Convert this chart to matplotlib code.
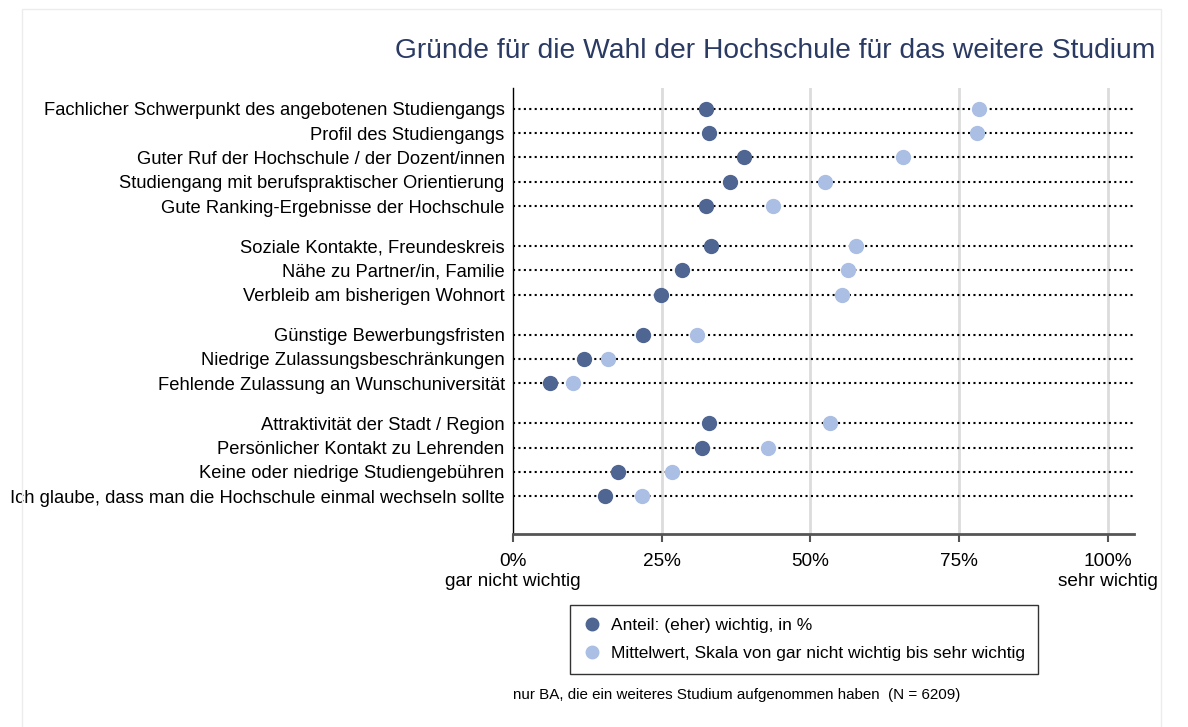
import numpy as np
import matplotlib.pyplot as plt
from matplotlib.lines import Line2D
from matplotlib.patches import Rectangle

plt.rcParams['font.family'] = ['Liberation Sans', 'DejaVu Sans']

# reasons, grouped in four blocks
groups = [
    ["Fachlicher Schwerpunkt des angebotenen Studiengangs",
     "Profil des Studiengangs",
     "Guter Ruf der Hochschule / der Dozent/innen",
     "Studiengang mit berufspraktischer Orientierung",
     "Gute Ranking-Ergebnisse der Hochschule"],
    ["Soziale Kontakte, Freundeskreis",
     "Nähe zu Partner/in, Familie",
     "Verbleib am bisherigen Wohnort"],
    ["Günstige Bewerbungsfristen",
     "Niedrige Zulassungsbeschränkungen",
     "Fehlende Zulassung an Wunschuniversität"],
    ["Attraktivität der Stadt / Region",
     "Persönlicher Kontakt zu Lehrenden",
     "Keine oder niedrige Studiengebühren",
     "Ich glaube, dass man die Hochschule einmal wechseln sollte"],
]

# share (eher) wichtig, in %
anteil = [32.4, 33.0, 38.8, 36.4, 32.5,
          33.3, 28.4, 24.9,
          21.9, 11.9, 6.2,
          33.0, 31.8, 17.7, 15.5]
# mean on 0-100 scale
mittelwert = [78.4, 78.0, 65.5, 52.5, 43.7,
              57.7, 56.4, 55.3,
              30.9, 16.0, 10.1,
              53.3, 42.9, 26.7, 21.7]

xticks = [0, 25, 50, 75, 100]
xticklabels = ["0%\ngar nicht wichtig", "25%", "50%", "75%", "100%\nsehr wichtig"]

dark = "#4f6592"
light = "#abbee3"
title_col = "#2a3a63"

# y positions with an extra gap between blocks
labels, ypos = [], []
y = 0.0
for g in groups:
    for lab in g:
        labels.append(lab)
        ypos.append(y)
        y += 1
    y += 0.64
ypos = np.array(ypos)

fig = plt.figure(figsize=(11.88, 7.27), dpi=100)
fig.patches.append(Rectangle((22 / 1188, -0.01), (1161 - 22) / 1188, 1 - 9 / 727 + 0.01,
                             transform=fig.transFigure, fill=False,
                             edgecolor="#ececec", linewidth=1))
ax = fig.add_axes([513 / 1188, 1 - 534 / 727, (1134 - 513) / 1188, (534 - 88) / 727])

xmax = 104.4
for y in ypos:
    ax.plot([0, xmax], [y, y], color="black", linestyle=(0, (1, 1.6)),
            linewidth=1.5, zorder=2)
ax.scatter(anteil, ypos, s=100, color=dark, zorder=3)
ax.scatter(mittelwert, ypos, s=100, color=light, zorder=3)

for x in xticks[1:]:
    ax.axvline(x, color="#dcdcdc", linewidth=2, zorder=1)

ax.set_xlim(0, xmax)
ax.set_ylim(ypos[-1] + 1.55, ypos[0] - 0.85)
ax.set_yticks(ypos)
ax.set_yticklabels(labels, fontsize=13.2)
ax.tick_params(axis="y", length=0, pad=6)
ax.set_xticks(xticks)
ax.set_xticklabels(xticklabels, fontsize=13.7, linespacing=1.2)
ax.tick_params(axis="x", length=6, width=1.5, color="#555555", pad=8)

for side in ["top", "right"]:
    ax.spines[side].set_visible(False)
ax.spines["left"].set_linewidth(1)
ax.spines["bottom"].set_color("#555555")
ax.spines["bottom"].set_linewidth(2)

fig.text(1155 / 1188, 1 - 51 / 727, "Gründe für die Wahl der Hochschule für das weitere Studium",
         ha="right", va="center", fontsize=20.3, color=title_col)

handles = [Line2D([], [], marker="o", linestyle="none", markersize=9, color=dark),
           Line2D([], [], marker="o", linestyle="none", markersize=9, color=light)]
leg = fig.legend(handles, ["Anteil: (eher) wichtig, in %",
                           "Mittelwert, Skala von gar nicht wichtig bis sehr wichtig"],
                 loc="upper left", bbox_to_anchor=(570 / 1188, 1 - 605 / 727),
                 borderaxespad=0, fontsize=12.5, frameon=True, fancybox=False,
                 edgecolor="black", handletextpad=0.6, borderpad=0.75,
                 labelspacing=0.75, handlelength=1.0)
leg.get_frame().set_linewidth(1)

fig.text(513 / 1188, 1 - 695 / 727,
         "nur BA, die ein weiteres Studium aufgenommen haben  (N = 6209)",
         ha="left", va="center", fontsize=10.9)

fig.savefig("out.png", dpi=100, facecolor="white")
